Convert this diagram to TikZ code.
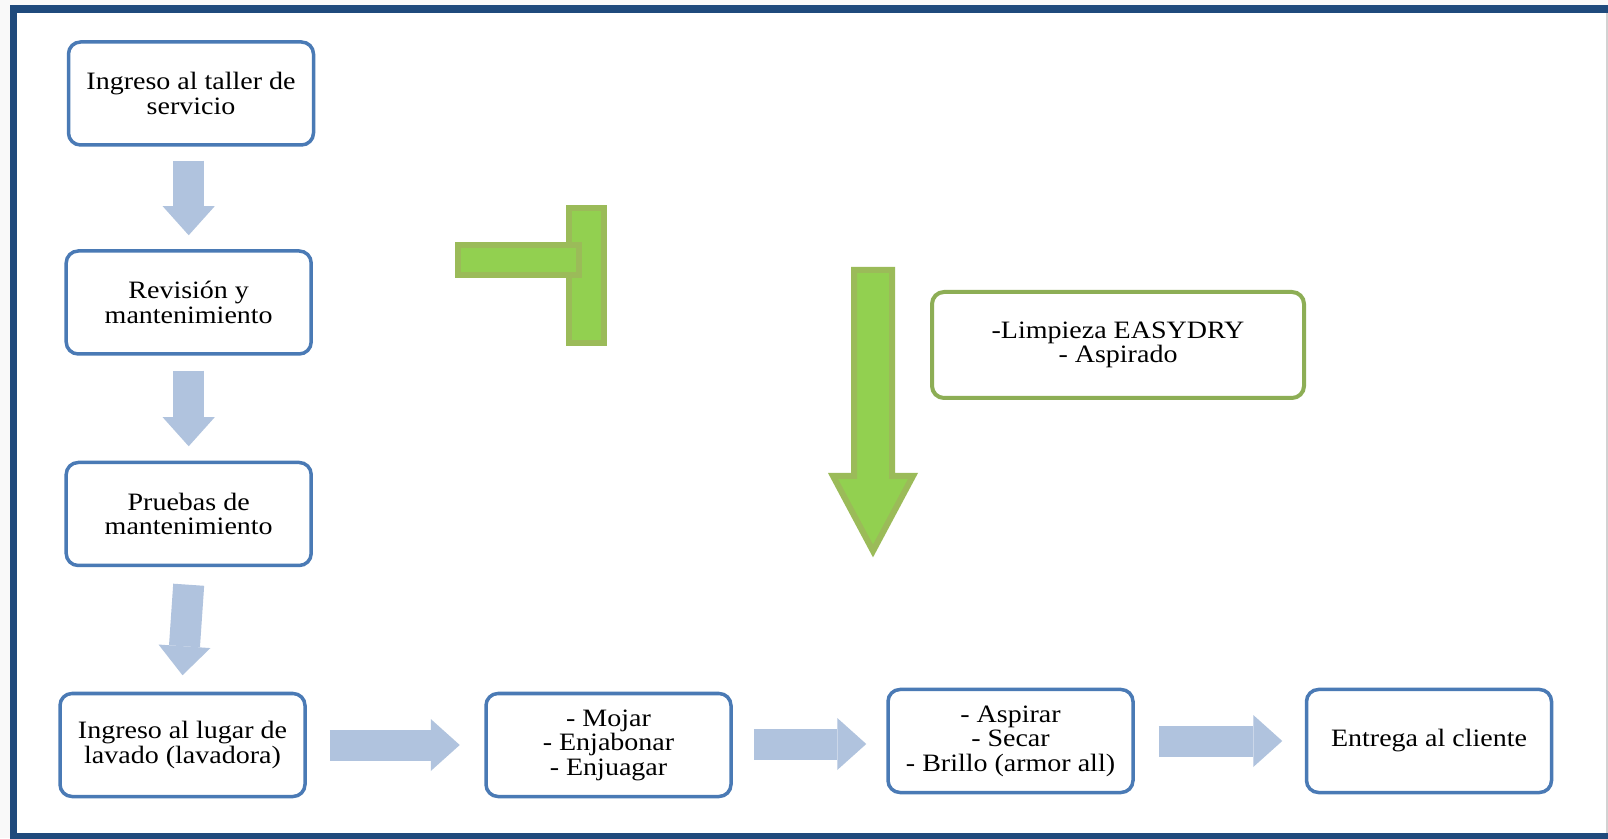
\documentclass[tikz,border=0pt]{standalone}
\usepackage{fontspec}
\setmainfont{Liberation Serif}[FakeStretch=1.12]
\usetikzlibrary{arrows.meta}
\definecolor{marco}{HTML}{1F4A7C}
\definecolor{borde}{HTML}{4A7AB5}
\definecolor{relleno}{HTML}{B0C3DE}
\definecolor{verde}{HTML}{92D050}
\definecolor{verdeborde}{HTML}{9BBB59}
\definecolor{verdecaja}{HTML}{8DAE55}

\begin{document}
\begin{tikzpicture}[x=1pt,y=1pt,font=\fontsize{25}{24.5}\selectfont,
  paso/.style={draw=borde,line width=3.5pt,rounded corners=12pt,fill=white,align=center,
    inner sep=0pt,minimum width=245pt,minimum height=103pt},
  flecha/.style={draw=relleno,line width=31pt,-{Triangle[length=29pt,width=52pt,line width=0pt]}},
  bloque/.style={fill=verde,draw=verdeborde,line width=6pt}]
\useasboundingbox (0,0) rectangle (1608,838);
\fill[gray!5] (0,0) rectangle (1608,838);
\fill[white] (13.5,1.5) rectangle (1608,829);
\draw[gray!35,line width=1.5pt] (1607,1.5) -- (1607,829);
\draw[marco,line width=7.5pt] (1608,1.5) -- (13.5,1.5) -- (13.5,829) -- (1608,829);

\node[paso] (ingreso) at (191,744.5) {Ingreso al taller de\\servicio};
\node[paso] (revision) at (188.7,535.5) {Revisión y\\mantenimiento};
\node[paso] (pruebas) at (188.7,324) {Pruebas de\\mantenimiento};
\node[paso] (lavado) at (182.5,93) {Ingreso al lugar de\\lavado (lavadora)};
\node[paso] (mojar) at (608.5,93) {- Mojar\\- Enjabonar\\- Enjuagar};
\node[paso] (aspirar) at (1010.5,97) {- Aspirar\\- Secar\\- Brillo (armor all)};
\node[paso] (entrega) at (1429,97) {Entrega al cliente};
\node[paso,draw=verdecaja,line width=4pt,minimum width=372pt,minimum height=106pt] (easydry) at (1118,493) {-Limpieza EASYDRY\\- Aspirado};

\draw[flecha] ([yshift=-14pt]ingreso.south -| revision.north) -- ([yshift=14pt]revision.north);
\draw[flecha] ([yshift=-15pt]revision.south) -- ([yshift=14.5pt]pruebas.north);
\draw[flecha] ([yshift=-17.5pt]pruebas.south) -- ([yshift=16.5pt]lavado.north);
\draw[flecha] ([xshift=23pt]lavado.east) -- ([xshift=-24.5pt]mojar.west);
\draw[flecha] ([xshift=21pt,yshift=1pt]mojar.east) -- ([xshift=-20pt,yshift=1pt]aspirar.west |- mojar.east);
\draw[flecha] ([xshift=24pt]aspirar.east) -- ([xshift=-22.5pt]entrega.west);

\draw[bloque] (569,495) rectangle (604,630);
\draw[bloque] (458,563) rectangle (579,593);
\draw[bloque] (854,568) -- (892,568) -- (892,362) -- (913,362) -- (873,287) -- (833,362) -- (854,362) -- cycle;
\end{tikzpicture}
\end{document}
